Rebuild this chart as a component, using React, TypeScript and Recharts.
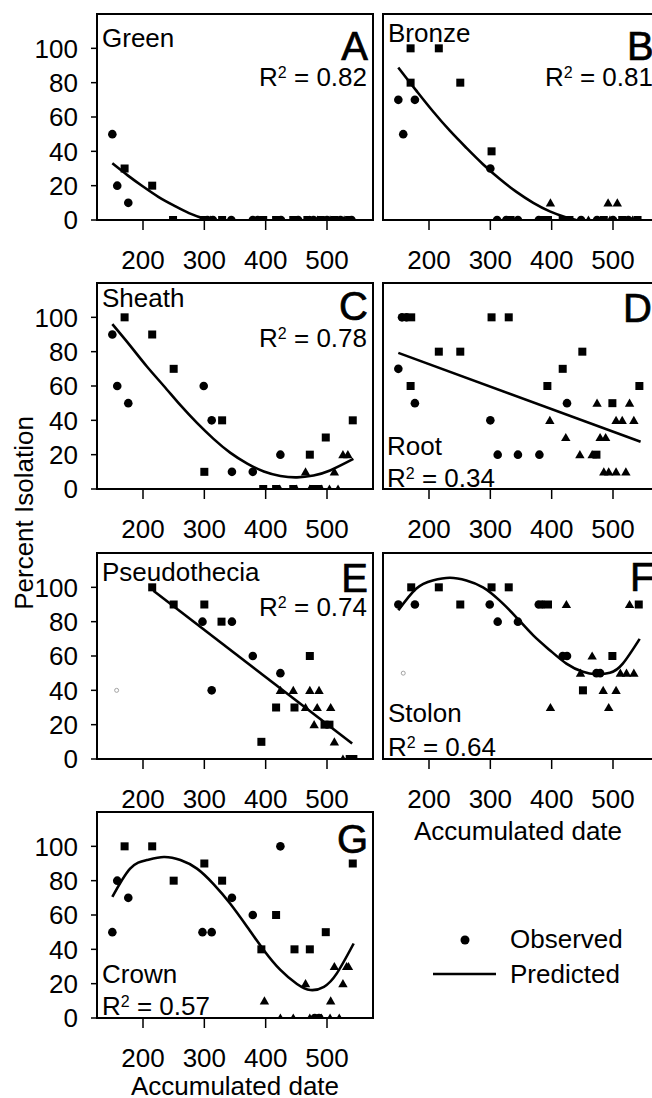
import React from "react";
import { ComposedChart, XAxis, YAxis, Scatter, Line, ReferenceArea } from "recharts";

type P = { x: number; y: number };
const pts = (a: number[][]): P[] => a.map(([x, y]) => ({ x, y }));

const xTicks = [200, 300, 400, 500];
const yTicks = [0, 20, 40, 60, 80, 100];

// A - Green
const greenCircles = pts([[150,50],[158,20],[176,10],[305,0],[314,0],[344,0],[379,0],[387,0],[425,0],[453,0],[478,0],[500,0],[522,0],[540,0]]);
const greenSquares = pts([[170,30],[215,20],[249,0],[299,0],[329,0],[396,0],[417,0],[445,0],[468,0],[490,0],[512,0],[536,0]]);
const greenTriangles = pts([[310,0],[472,0],[485,0],[505,0],[528,0]]);
const greenCurve = pts([[150,33],[175,26],[200,19.5],[225,13.5],[250,8.5],[275,4],[300,0.8],[310,0]]);

// B - Bronze
const bronzeCircles = pts([[150,70],[158,50],[177,70],[300,30],[311,0],[326,0],[345,0],[379,0],[448,0],[474,0],[500,0],[525,0]]);
const bronzeSquares = pts([[170,100],[216,100],[170,80],[251,80],[302,40],[333,0],[386,0],[394,0],[418,0],[429,0],[485,0],[515,0],[540,0]]);
const bronzeTriangles = pts([[398,10],[492,10],[507,10],[460,0],[495,0],[532,0]]);
const bronzeCurve = pts([[150,88.8],[179,75.5],[206,63.5],[234,52],[261,42],[288,32.5],[315,24],[342,16.5],[370,10],[397,5],[424,1.5],[440,0]]);

// C - Sheath
const sheathCircles = pts([[150,90],[158,60],[176,50],[299,60],[312,40],[345,10],[379,10],[424,20]]);
const sheathSquares = pts([[170,100],[215,90],[250,70],[300,10],[329,40],[472,20],[498,30],[542,40],[396,0],[417,0],[445,0],[478,0],[486,0]]);
const sheathTriangles = pts([[465,10],[512,10],[526,20],[534,20],[423,0],[450,0],[472,0],[491,0],[504,0],[518,0]]);
const sheathCurve = pts([[150,96],[179,83.5],[206,71.5],[234,60],[261,48.8],[288,38.5],[315,29.2],[342,21.2],[370,14.8],[397,10.2],[424,7.6],[451,6.8],[478,7.9],[505,10.8],[543,17.5]]);

// D - Root
const rootCircles = pts([[156,100],[163,100],[150,70],[177,50],[300,40],[312,20],[345,20],[380,20],[425,50]]);
const rootSquares = pts([[171,100],[216,80],[251,80],[170,60],[302,100],[330,100],[393,60],[418,70],[450,80],[473,20],[499,50],[543,60]]);
const rootTriangles = pts([[397,40],[423,30],[446,20],[466,20],[474,50],[479,30],[488,30],[485,10],[493,10],[505,10],[521,10],[505,40],[515,40],[527,50],[534,40]]);
const rootCurve = pts([[150,79.3],[545,27.5]]);

// E - Pseudothecia
const pseudoCircles = pts([[297,80],[345,80],[379,60],[312,40],[424,50]]);
const pseudoSquares = pts([[215,100],[250,90],[300,90],[328,80],[417,30],[447,30],[472,60],[496,20],[504,20],[393,10],[537,0],[543,0]]);
const pseudoTriangles = pts([[424,40],[445,40],[472,40],[487,40],[465,30],[484,30],[506,30],[479,20],[512,10],[526,0]]);
const pseudoOpen = pts([[157,40]]);
const pseudoCurve = pts([[217,98],[541,9]]);

// F - Stolon
const stolonCircles = pts([[150,90],[177,90],[299,90],[312,80],[345,80],[379,90],[385,90],[418,60],[425,60],[473,50],[479,50]]);
const stolonSquares = pts([[171,100],[216,100],[251,90],[302,100],[330,100],[394,90],[499,60],[451,40],[542,90]]);
const stolonTriangles = pts([[424,90],[466,60],[447,50],[512,50],[522,50],[534,50],[484,40],[505,40],[398,30],[493,30],[527,90]]);
const stolonOpen = pts([[158,50]]);
const stolonCurve = pts([[150,86.6],[179,99.2],[206,104],[234,105.6],[261,104],[288,100],[315,92.4],[342,82.7],[370,72],[397,63.4],[424,55.6],[451,50.8],[473,49.4],[495,50.2],[516,55.6],[543.5,70]]);

// G - Crown
const crownCircles = pts([[150,50],[158,80],[176,70],[297,50],[312,50],[345,70],[379,60],[424,100],[480,0],[487,0]]);
const crownSquares = pts([[170,100],[215,100],[250,80],[300,90],[329,80],[393,40],[417,60],[447,40],[472,40],[498,50],[542,90]]);
const crownTriangles = pts([[398,10],[424,0],[445,0],[465,20],[472,0],[491,0],[506,10],[505,0],[520,0],[512,30],[526,20],[532,30],[535,30]]);
const crownCurve = pts([[150,70.5],[179,87],[206,92],[234,93.8],[261,92],[288,87],[315,78],[342,66.7],[370,53],[397,39.5],[424,28],[451,19.8],[473,16.3],[495,18.2],[516,26],[543.5,43.4]]);

const FONT = "'Liberation Sans', Arial, Helvetica, sans-serif";

const CircleShape = (p: any) => <circle cx={p.cx} cy={p.cy} r={4.3} fill="#000" />;
const SquareShape = (p: any) => <rect x={p.cx - 4} y={p.cy - 4} width={8} height={8} fill="#000" />;
const TriShape = (p: any) => (
  <path d={`M${p.cx},${p.cy - 4.6}L${p.cx + 4.7},${p.cy + 3.6}L${p.cx - 4.7},${p.cy + 3.6}Z`} fill="#000" />
);
const OpenShape = (p: any) => <circle cx={p.cx} cy={p.cy} r={2} fill="#fff" stroke="#999" strokeWidth={0.9} />;

type PanelProps = {
  boxLeft: number;
  bottom: number;
  circles: P[];
  squares: P[];
  triangles: P[];
  open?: P[];
  curve: P[];
  curveType: any;
  yLabels: boolean;
};

function Panel({ boxLeft, bottom, circles, squares, triangles, open, curve, curveType, yLabels }: PanelProps) {
  const top = bottom - 206;
  return (
    <div style={{ position: "absolute", left: boxLeft - 97, top: top - 10 }}>
      <ComposedChart width={383} height={320} margin={{ top: 10, right: 10, bottom: 0, left: 0 }}>
        <XAxis
          type="number"
          dataKey="x"
          domain={[125, 575]}
          ticks={xTicks}
          interval={0}
          axisLine={false}
          tickSize={10}
          tickMargin={21}
          height={104}
          tick={{ fontSize: 26, fill: "#000", fontFamily: FONT }}
          tickLine={{ stroke: "#000", strokeWidth: 1.5 }}
          allowDataOverflow
        />
        <YAxis
          type="number"
          dataKey="y"
          domain={[0, 120]}
          ticks={yTicks}
          interval={0}
          axisLine={false}
          tickSize={6}
          tickMargin={13}
          width={97}
          tick={yLabels ? { fontSize: 26, fill: "#000", fontFamily: FONT } : false}
          tickLine={{ stroke: "#000", strokeWidth: 1.5 }}
          allowDataOverflow
        />
        <ReferenceArea x1={125} x2={575} y1={0} y2={120} fill="none" stroke="#000" strokeWidth={2} />
        <Line
          data={curve}
          dataKey="y"
          type={curveType}
          stroke="#000"
          strokeWidth={2.6}
          dot={false}
          activeDot={false}
          isAnimationActive={false}
        />
        {open && <Scatter data={open} dataKey="y" shape={OpenShape} isAnimationActive={false} />}
        <Scatter data={circles} dataKey="y" shape={CircleShape} isAnimationActive={false} />
        <Scatter data={squares} dataKey="y" shape={SquareShape} isAnimationActive={false} />
        <Scatter data={triangles} dataKey="y" shape={TriShape} isAnimationActive={false} />
      </ComposedChart>
    </div>
  );
}

const R2 = ({ x, y, v, anchor }: { x: number; y: number; v: string; anchor: "start" | "end" }) => (
  <text x={x} y={y} textAnchor={anchor} fontSize={26}>
    <tspan>R</tspan>
    <tspan dy={-8} fontSize={16}>2</tspan>
    <tspan dy={8}>{` = ${v}`}</tspan>
  </text>
);

const Letter = ({ x, y, t, anchor }: { x: number; y: number; t: string; anchor: "start" | "end" }) => (
  <text x={x} y={y} textAnchor={anchor} fontSize={40} stroke="#000" strokeWidth={0.7}>{t}</text>
);

export default function App() {
  return (
    <div
      style={{
        position: "absolute",
        left: 0,
        top: 0,
        width: 652,
        height: 1098,
        overflow: "hidden",
        background: "#fff",
        fontFamily: FONT,
      }}
    >
      <Panel boxLeft={97} bottom={220} circles={greenCircles} squares={greenSquares} triangles={greenTriangles} curve={greenCurve} curveType="monotone" yLabels />
      <Panel boxLeft={383} bottom={220} circles={bronzeCircles} squares={bronzeSquares} triangles={bronzeTriangles} curve={bronzeCurve} curveType="monotone" yLabels={false} />
      <Panel boxLeft={97} bottom={489} circles={sheathCircles} squares={sheathSquares} triangles={sheathTriangles} curve={sheathCurve} curveType="natural" yLabels />
      <Panel boxLeft={383} bottom={489} circles={rootCircles} squares={rootSquares} triangles={rootTriangles} curve={rootCurve} curveType="linear" yLabels={false} />
      <Panel boxLeft={97} bottom={759} circles={pseudoCircles} squares={pseudoSquares} triangles={pseudoTriangles} open={pseudoOpen} curve={pseudoCurve} curveType="linear" yLabels />
      <Panel boxLeft={383} bottom={759} circles={stolonCircles} squares={stolonSquares} triangles={stolonTriangles} open={stolonOpen} curve={stolonCurve} curveType="natural" yLabels={false} />
      <Panel boxLeft={97} bottom={1018} circles={crownCircles} squares={crownSquares} triangles={crownTriangles} curve={crownCurve} curveType="natural" yLabels />

      <svg
        width={652}
        height={1098}
        style={{ position: "absolute", left: 0, top: 0, pointerEvents: "none" }}
        fontFamily={FONT}
        fill="#000"
      >
        {/* A */}
        <text x={102} y={47} fontSize={26}>Green</text>
        <Letter x={368} y={60} t="A" anchor="end" />
        <R2 x={367} y={86} v="0.82" anchor="end" />
        {/* B */}
        <text x={388} y={42} fontSize={26}>Bronze</text>
        <Letter x={627} y={60} t="B" anchor="start" />
        <R2 x={545} y={86} v="0.81" anchor="start" />
        {/* C */}
        <text x={102} y={307} fontSize={26}>Sheath</text>
        <Letter x={368} y={320} t="C" anchor="end" />
        <R2 x={367} y={347} v="0.78" anchor="end" />
        {/* D */}
        <Letter x={623} y={322} t="D" anchor="start" />
        <text x={387} y={455} fontSize={26}>Root</text>
        <R2 x={387} y={487} v="0.34" anchor="start" />
        {/* E */}
        <text x={102} y={581} fontSize={26}>Pseudothecia</text>
        <Letter x={368} y={592} t="E" anchor="end" />
        <R2 x={367} y={616} v="0.74" anchor="end" />
        {/* F */}
        <Letter x={630} y={591} t="F" anchor="start" />
        <text x={388} y={722} fontSize={26}>Stolon</text>
        <R2 x={388} y={756} v="0.64" anchor="start" />
        {/* G */}
        <Letter x={368} y={853} t="G" anchor="end" />
        <text x={102} y={983} fontSize={26}>Crown</text>
        <R2 x={102} y={1015} v="0.57" anchor="start" />

        {/* axis titles */}
        <text transform="translate(33,513) rotate(-90)" textAnchor="middle" fontSize={26}>Percent Isolation</text>
        <text x={518} y={840} textAnchor="middle" fontSize={26}>Accumulated date</text>
        <text x={235} y={1095} textAnchor="middle" fontSize={26}>Accumulated date</text>

        {/* legend */}
        <circle cx={465} cy={940} r={4.5} fill="#000" />
        <text x={510} y={948} fontSize={26}>Observed</text>
        <line x1={433} x2={496} y1={974} y2={974} stroke="#000" strokeWidth={2.6} />
        <text x={510} y={983} fontSize={26}>Predicted</text>
      </svg>
    </div>
  );
}
